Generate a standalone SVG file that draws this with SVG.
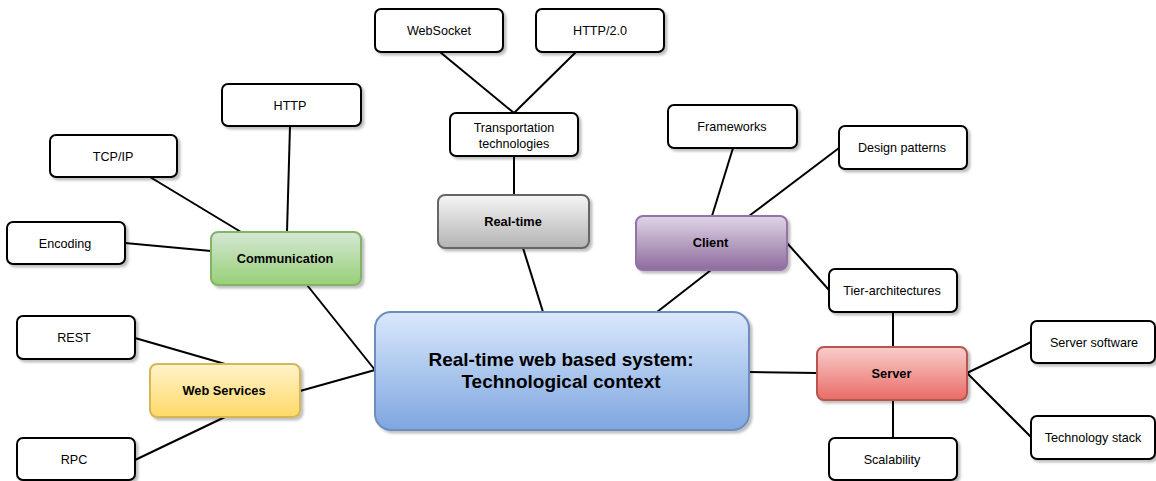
<svg xmlns="http://www.w3.org/2000/svg" width="1156" height="481" viewBox="0 0 1156 481">
  <defs>
    <linearGradient id="gBlue" x1="0" y1="0" x2="0" y2="1"><stop offset="0" stop-color="#dae8fc"/><stop offset="1" stop-color="#7ea6e0"/></linearGradient>
    <linearGradient id="gGreen" x1="0" y1="0" x2="0" y2="1"><stop offset="0" stop-color="#d5e8d4"/><stop offset="1" stop-color="#97d077"/></linearGradient>
    <linearGradient id="gYellow" x1="0" y1="0" x2="0" y2="1"><stop offset="0" stop-color="#fff2cc"/><stop offset="1" stop-color="#ffd966"/></linearGradient>
    <linearGradient id="gGray" x1="0" y1="0" x2="0" y2="1"><stop offset="0" stop-color="#f5f5f5"/><stop offset="1" stop-color="#b3b3b3"/></linearGradient>
    <linearGradient id="gPurple" x1="0" y1="0" x2="0" y2="1"><stop offset="0" stop-color="#e1d5e7"/><stop offset="1" stop-color="#8c6c9c"/></linearGradient>
    <linearGradient id="gRed" x1="0" y1="0" x2="0" y2="1"><stop offset="0" stop-color="#f8cecc"/><stop offset="1" stop-color="#ea6b66"/></linearGradient>
    <filter id="shadow" x="-10%" y="-10%" width="130%" height="140%">
      <feDropShadow dx="2.5" dy="2.5" stdDeviation="1.2" flood-color="#000" flood-opacity="0.25"/>
    </filter>
  </defs>
  <style>
    .leaf { fill: #ffffff; stroke: #000000; stroke-width: 2; filter: url(#shadow); }
    .hub { stroke-width: 2; filter: url(#shadow); }
    .edge { stroke: #000000; stroke-width: 2; fill: none; }
    text { font-family: "Liberation Sans", Arial, sans-serif; text-anchor: middle; fill: #000000; }
    .lt { font-size: 12.6px; }
    .bt { font-size: 12.8px; font-weight: bold; }
    .ct { font-size: 19px; font-weight: bold; }
  </style>

  <g id="connectors">
    <line class="edge" x1="150" y1="177" x2="241" y2="232"/>
    <line class="edge" x1="125" y1="243" x2="211" y2="251"/>
    <line class="edge" x1="290" y1="126" x2="287" y2="232"/>
    <line class="edge" x1="307" y1="285" x2="375" y2="370"/>
    <line class="edge" x1="135" y1="338" x2="225" y2="364"/>
    <line class="edge" x1="135" y1="460" x2="225" y2="417"/>
    <line class="edge" x1="300" y1="391" x2="375" y2="370"/>
    <line class="edge" x1="440" y1="52" x2="514" y2="113"/>
    <line class="edge" x1="576" y1="52" x2="514" y2="113"/>
    <line class="edge" x1="514" y1="156" x2="514" y2="195"/>
    <line class="edge" x1="523" y1="248" x2="543" y2="312"/>
    <line class="edge" x1="711" y1="270" x2="657" y2="312"/>
    <line class="edge" x1="733" y1="148" x2="712" y2="216"/>
    <line class="edge" x1="839" y1="148" x2="749" y2="216"/>
    <line class="edge" x1="787" y1="243" x2="829" y2="290"/>
    <line class="edge" x1="893" y1="312" x2="893" y2="347"/>
    <line class="edge" x1="749" y1="372" x2="817" y2="373"/>
    <line class="edge" x1="967" y1="373" x2="1031" y2="342"/>
    <line class="edge" x1="967" y1="373" x2="1031" y2="437"/>
    <line class="edge" x1="893" y1="400" x2="893" y2="438"/>
  </g>

  <g id="center">
    <rect class="hub" x="375" y="312" width="374" height="118" rx="16" fill="url(#gBlue)" stroke="#6c8ebf"/>
    <text class="ct" x="561" y="366">Real-time web based system:</text>
    <text class="ct" x="561" y="388">Technological context</text>
  </g>

  <g id="communication">
    <rect class="hub" x="211" y="232" width="150" height="53" rx="7" fill="url(#gGreen)" stroke="#82b366"/>
    <text class="bt" x="285" y="263">Communication</text>
  </g>
  <g id="web-services">
    <rect class="hub" x="150" y="364" width="150" height="53" rx="7" fill="url(#gYellow)" stroke="#d6b656"/>
    <text class="bt" x="224" y="395">Web Services</text>
  </g>
  <g id="real-time">
    <rect class="hub" x="438" y="195" width="151" height="53" rx="7" fill="url(#gGray)" stroke="#666666"/>
    <text class="bt" x="513" y="225.5">Real-time</text>
  </g>
  <g id="client">
    <rect class="hub" x="636" y="216" width="151" height="54" rx="7" fill="url(#gPurple)" stroke="#9673a6"/>
    <text class="bt" x="710.5" y="247">Client</text>
  </g>
  <g id="server">
    <rect class="hub" x="817" y="347" width="150" height="53" rx="7" fill="url(#gRed)" stroke="#b85450"/>
    <text class="bt" x="891.5" y="378">Server</text>
  </g>

  <g id="transportation">
    <rect class="leaf" x="450" y="113" width="128" height="43" rx="6"/>
    <text class="lt" x="514" y="131.5">Transportation</text>
    <text class="lt" x="514" y="147.5">technologies</text>
  </g>
  <g id="websocket">
    <rect class="leaf" x="375" y="9" width="128" height="43" rx="6"/>
    <text class="lt" x="439" y="35">WebSocket</text>
  </g>
  <g id="http2">
    <rect class="leaf" x="536" y="9" width="128" height="43" rx="6"/>
    <text class="lt" x="600" y="35">HTTP/2.0</text>
  </g>
  <g id="http">
    <rect class="leaf" x="222" y="84" width="139" height="42" rx="6"/>
    <text class="lt" x="290" y="109.5">HTTP</text>
  </g>
  <g id="tcpip">
    <rect class="leaf" x="50" y="135" width="127" height="42" rx="6"/>
    <text class="lt" x="113" y="160.5">TCP/IP</text>
  </g>
  <g id="encoding">
    <rect class="leaf" x="7" y="222" width="118" height="42" rx="6"/>
    <text class="lt" x="65" y="247.5">Encoding</text>
  </g>
  <g id="rest">
    <rect class="leaf" x="17" y="316" width="118" height="43" rx="6"/>
    <text class="lt" x="74" y="342">REST</text>
  </g>
  <g id="rpc">
    <rect class="leaf" x="17" y="438" width="118" height="42" rx="6"/>
    <text class="lt" x="74" y="464">RPC</text>
  </g>
  <g id="frameworks">
    <rect class="leaf" x="668" y="105" width="129" height="43" rx="6"/>
    <text class="lt" x="732" y="131">Frameworks</text>
  </g>
  <g id="design-patterns">
    <rect class="leaf" x="839" y="126" width="128" height="43" rx="6"/>
    <text class="lt" x="902" y="152">Design patterns</text>
  </g>
  <g id="tier-architectures">
    <rect class="leaf" x="829" y="269" width="128" height="43" rx="6"/>
    <text class="lt" x="892" y="295">Tier-architectures</text>
  </g>
  <g id="server-software">
    <rect class="leaf" x="1031" y="321" width="124" height="42" rx="6"/>
    <text class="lt" x="1094" y="346.5">Server software</text>
  </g>
  <g id="technology-stack">
    <rect class="leaf" x="1031" y="416" width="124" height="43" rx="6"/>
    <text class="lt" x="1093" y="442">Technology stack</text>
  </g>
  <g id="scalability">
    <rect class="leaf" x="829" y="438" width="128" height="42" rx="6"/>
    <text class="lt" x="892" y="464">Scalability</text>
  </g>
</svg>
